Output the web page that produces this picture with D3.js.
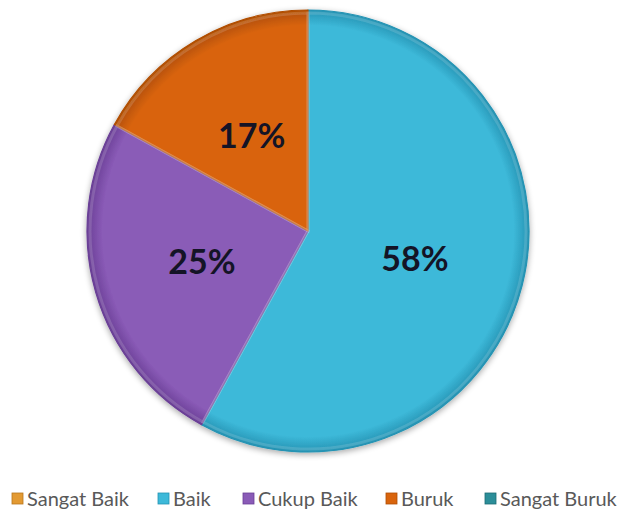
<!DOCTYPE html>
<html>
<head>
<meta charset="utf-8">
<script src="https://cdn.jsdelivr.net/npm/d3@7"></script>
<style>
  html, body { margin: 0; padding: 0; background: #fff; }
  svg { display: block; }
</style>
</head>
<body>
<svg id="chart" width="624" height="519"></svg>
<script>
// Penilaian responden
const categories = ["Sangat Baik", "Baik", "Cukup Baik", "Buruk", "Sangat Buruk"];
const values = [0, 58, 25, 17, 0];
const labels = ["0%", "58%", "25%", "17%", "0%"];
const colors = ["#E39A32", "#3DB9D9", "#8A5BB7", "#D9640D", "#2C8E99"];
const darkColors = ["#B8771D", "#2593B3", "#6A3F96", "#B04E05", "#1C6B74"];

const svg = d3.select("#chart");
const cx = 308, cy = 231, R = 221;

const defs = svg.append("defs");

// soft drop shadow under the pie
const shadow = defs.append("filter").attr("id", "shadow")
  .attr("x", "-10%").attr("y", "-10%").attr("width", "120%").attr("height", "120%");
shadow.append("feGaussianBlur").attr("in", "SourceAlpha").attr("stdDeviation", 3);
shadow.append("feOffset").attr("dx", 0).attr("dy", 2).attr("result", "b");
shadow.append("feComponentTransfer").append("feFuncA").attr("type", "linear").attr("slope", 0.35);
const merge = shadow.append("feMerge");
merge.append("feMergeNode");
merge.append("feMergeNode").attr("in", "SourceGraphic");

// bevel-like radial shading per slice (coordinates relative to the pie centre)
categories.forEach((c, i) => {
  const g = defs.append("radialGradient").attr("id", "grad" + i)
    .attr("gradientUnits", "userSpaceOnUse")
    .attr("cx", 0).attr("cy", 0).attr("r", R);
  g.append("stop").attr("offset", "0%").attr("stop-color", colors[i]);
  g.append("stop").attr("offset", "93%").attr("stop-color", colors[i]);
  g.append("stop").attr("offset", "100%").attr("stop-color", darkColors[i]);
});

const pie = d3.pie().sort(null).value(d => d)(values);
const arc = d3.arc().innerRadius(0).outerRadius(R);
const labelArc = d3.arc().innerRadius(R * 0.5).outerRadius(R * 0.5);

const g = svg.append("g").attr("transform", `translate(${cx},${cy})`);

g.append("g").attr("filter", "url(#shadow)")
  .selectAll("path")
  .data(pie.filter(d => d.value > 0))
  .join("path")
  .attr("d", arc)
  .attr("fill", d => `url(#grad${d.index})`)
  .attr("stroke", d => darkColors[d.index])
  .attr("stroke-width", 1.2)
  .attr("stroke-linejoin", "round");

// light inner edge highlight along slice boundaries
g.append("g")
  .selectAll("path")
  .data(pie.filter(d => d.value > 0))
  .join("path")
  .attr("d", d3.arc().innerRadius(0).outerRadius(R - 3))
  .attr("fill", "none")
  .attr("stroke", "rgba(255,255,255,0.15)")
  .attr("stroke-width", 3);

g.append("g")
  .selectAll("text")
  .data(pie.filter(d => d.value > 0))
  .join("text")
  .attr("transform", d => `translate(${labelArc.centroid(d)})`)
  .attr("text-anchor", "middle")
  .attr("dy", "0.36em")
  .attr("font-family", "Lato, 'Open Sans', sans-serif")
  .attr("font-weight", "bold")
  .attr("font-size", 34)
  .attr("fill", "#141426")
  .text(d => labels[d.index]);

// legend
const legendX = [12, 158, 243, 386, 485];
const legend = svg.append("g").attr("transform", "translate(0,499)");
const items = legend.selectAll("g").data(categories).join("g")
  .attr("transform", (d, i) => `translate(${legendX[i]},0)`);
items.append("rect")
  .attr("x", 0).attr("y", -6).attr("width", 11).attr("height", 11)
  .attr("fill", (d, i) => colors[i])
  .attr("stroke", (d, i) => darkColors[i]).attr("stroke-width", 0.8);
items.append("text")
  .attr("x", 15).attr("y", 0).attr("dy", "0.36em")
  .attr("font-family", "Lato, 'Open Sans', sans-serif")
  .attr("font-size", 20)
  .attr("fill", "#595959")
  .text(d => d);
</script>
</body>
</html>
